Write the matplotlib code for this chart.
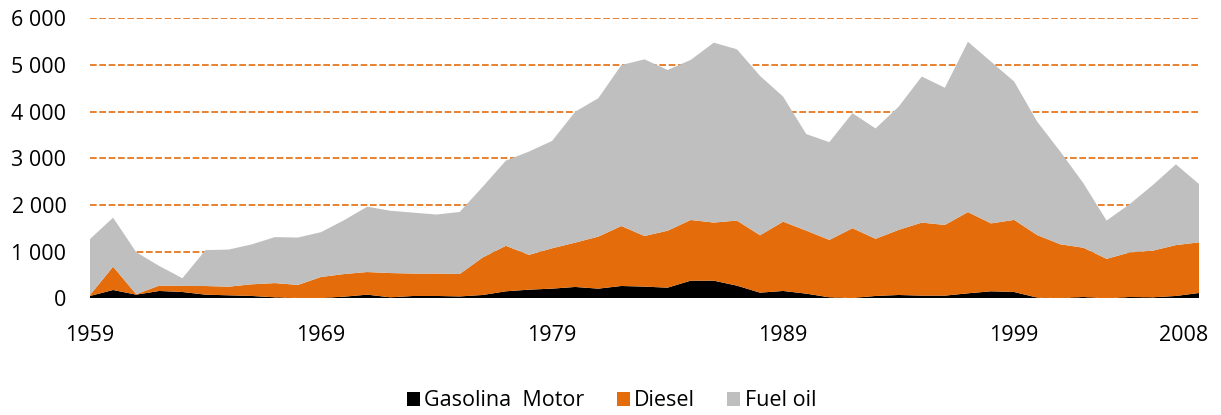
import matplotlib
matplotlib.use("Agg")
import matplotlib.pyplot as plt
from matplotlib.patches import Patch
import matplotlib.transforms as mtransforms
import numpy as np

plt.rcParams['font.family'] = ['Open Sans', 'DejaVu Sans']

# 49 categories, labelled every 10 and the last one
tick_labels = ["1959", "1969", "1979", "1989", "1999", "2008"]
tick_index = [0, 10, 20, 30, 40, 48]

gasolina = [50, 178, 78, 157, 135, 78, 64, 50, 21, 7, 7, 35, 78, 21, 50, 50, 40,
            71, 150, 185, 207, 243, 207, 264, 250, 228, 378, 378, 271, 121, 157, 100, 21,
            7, 50, 71, 57, 57, 107, 150, 135, 14, 7, 28, 0, 28, 21, 50, 114]
diesel = [20, 500, 10, 115, 130, 185, 185, 250, 305, 280, 450, 485, 485, 520, 480, 480, 480,
          805, 975, 745, 865, 950, 1115, 1285, 1085, 1220, 1300, 1245, 1395, 1230, 1485, 1350, 1230,
          1495, 1225, 1395, 1565, 1515, 1740, 1455, 1545, 1340, 1150, 1055, 845, 955, 1000, 1090, 1085]
fuel_oil = [1200, 1050, 900, 420, 165, 770, 795, 855, 985, 1015, 960, 1155, 1400, 1335, 1305, 1265, 1330,
            1515, 1825, 2215, 2300, 2805, 2965, 3450, 3785, 3445, 3430, 3855, 3670, 3415, 2680, 2070, 2095,
            2465, 2365, 2640, 3130, 2940, 3650, 3465, 2965, 2430, 1985, 1380, 820, 1035, 1405, 1730, 1250]
series_names = ["Gasolina  Motor", "Diesel", "Fuel oil"]
colors = ["#000000", "#E46C0A", "#BFBFBF"]
y_ticks = [0, 1000, 2000, 3000, 4000, 5000, 6000]

x = np.arange(len(gasolina))

fig = plt.figure(figsize=(12.21, 4.15), dpi=100)
ax = fig.add_axes([90/1221, 1-298.3/415, 1109/1221, (298.3-18.3)/415])

ax.stackplot(x, gasolina, diesel, fuel_oil, colors=colors, linewidth=0)

ax.set_xlim(0, 48)
ax.set_ylim(0, 6000)
ax.set_yticks(y_ticks)
ax.set_yticklabels([f"{v:,}".replace(",", " ") for v in y_ticks])
ax.set_xticks(tick_index)
ax.set_xticklabels(tick_labels)
ax.set_axisbelow(True)
ax.grid(axis='y', color="#E46C0A", linestyle=(0, (4, 1.6)), linewidth=1.2)
ax.grid(axis='x', visible=False)
for s in ax.spines.values():
    s.set_visible(False)
ax.tick_params(axis='both', length=0, labelsize=15.5, colors='black')
ax.tick_params(axis='y', pad=17)
ax.tick_params(axis='x', pad=19)

# shift last label left like the reference
last = ax.get_xticklabels()[-1]
offset = mtransforms.ScaledTranslation(-15/100, 0, fig.dpi_scale_trans)
last.set_transform(last.get_transform() + offset)

handles = [Patch(facecolor=c, edgecolor='none') for c in colors]
fig.legend(handles, series_names, loc='center', bbox_to_anchor=(0.501, 0.034),
           ncol=3, frameon=False, fontsize=15.5, handlelength=0.6, handleheight=0.6,
           handletextpad=0.2, columnspacing=1.5)

fig.savefig("out.png", dpi=100)
